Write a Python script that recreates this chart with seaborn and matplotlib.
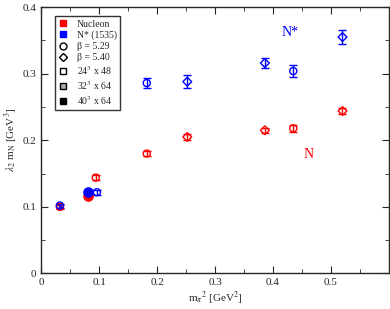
import seaborn as sns
import matplotlib.pyplot as plt
from matplotlib.lines import Line2D
import numpy as np

# values
mpi2 = [0.032, 0.080, 0.094, 0.182, 0.252, 0.386, 0.435, 0.520]
nucleon = [0.100, 0.117, 0.144, 0.180, 0.205, 0.215, 0.218, 0.244]
nucleon_err = [0.003, 0.003, 0.004, 0.004, 0.004, 0.004, 0.005, 0.005]
nstar_x = [0.032, 0.080, 0.096, 0.182, 0.252, 0.386, 0.435, 0.520]
nstar = [0.102, 0.122, 0.122, 0.286, 0.288, 0.316, 0.304, 0.355]
nstar_err = [0.003, 0.004, 0.004, 0.008, 0.010, 0.008, 0.009, 0.010]
beta = [5.29, 5.29, 5.29, 5.29, 5.40, 5.40, 5.29, 5.40]
lattice = ['32x64', '40x64', '24x48', '24x48', '24x48', '24x48', '24x48', '24x48']

sns.set_style("ticks")
plt.rcParams['font.family'] = ['Liberation Serif', 'DejaVu Serif']
plt.rcParams['mathtext.fontset'] = 'stix'

fig = plt.figure(figsize=(3.9, 3.09), dpi=100)
ax = fig.add_axes([0.106, 0.115, 0.891, 0.862])

shape = {5.29: 'o', 5.40: 'D'}

for xs, ys, es, col in [(mpi2, nucleon, nucleon_err, 'red'),
                        (nstar_x, nstar, nstar_err, 'blue')]:
    ax.errorbar(xs, ys, yerr=es, fmt='none', ecolor=col, elinewidth=1,
                capsize=3, capthick=1, zorder=2)
    for x, y, b, lat in zip(xs, ys, beta, lattice):
        m = shape[b]
        s = 26 if m == 'o' else 20
        if lat == '40x64':
            sns.scatterplot(x=[x], y=[y], marker=m, s=s + 18, color=col,
                            edgecolor=col, linewidth=1, ax=ax, zorder=3)
        else:
            sns.scatterplot(x=[x], y=[y], marker=m, s=s, facecolor='none',
                            edgecolor=col, linewidth=1, ax=ax, zorder=3)
            if lat == '32x64':
                sns.scatterplot(x=[x], y=[y], marker='x', s=8, color=col,
                                linewidth=0.8, ax=ax, zorder=3)

ax.text(0.43, 0.362, 'N*', color='blue', fontsize=10, ha='center', va='center')
ax.text(0.461, 0.178, 'N', color='red', fontsize=10, ha='center', va='center')

ax.set_xlim(0, 0.6)
ax.set_ylim(0, 0.4)
ax.set_xticks([0, 0.1, 0.2, 0.3, 0.4, 0.5])
ax.set_xticklabels(['0', '0.1', '0.2', '0.3', '0.4', '0.5'])
ax.set_yticks([0, 0.1, 0.2, 0.3, 0.4])
ax.set_yticklabels(['0', '0.1', '0.2', '0.3', '0.4'])
ax.set_xticks(np.arange(0.05, 0.6, 0.1), minor=True)
ax.set_yticks(np.arange(0.05, 0.4, 0.1), minor=True)
ax.tick_params(which='both', direction='in', top=True, right=True, labelsize=8)
ax.tick_params(which='major', length=5)
ax.tick_params(which='minor', length=3)
for sp in ax.spines.values():
    sp.set_linewidth(1)
    sp.set_visible(True)

ax.set_xlabel(r'm$_\pi$$^2$ [GeV$^2$]', fontsize=8, labelpad=2)
ax.set_ylabel(r'$\lambda_2$ m$_\mathrm{N}$ [GeV$^3$]', fontsize=8, labelpad=2)

handles = [
    Line2D([], [], ls='none', marker='s', color='red', markersize=5),
    Line2D([], [], ls='none', marker='s', color='blue', markersize=5),
    Line2D([], [], ls='none', marker='o', mfc='none', mec='black', markersize=5),
    Line2D([], [], ls='none', marker='D', mfc='none', mec='black', markersize=4.5),
    Line2D([], [], ls='none', marker='s', mfc='none', mec='black', markersize=5),
    Line2D([], [], ls='none', marker='s', mfc='#aaaaaa', mec='black', markersize=5),
    Line2D([], [], ls='none', marker='s', mfc='black', mec='black', markersize=5),
]
labels = ['Nucleon', 'N* (1535)', 'β = 5.29', 'β = 5.40',
          r'24$^3$ x 48', r'32$^3$ x 64', r'40$^3$ x 64']
leg = ax.legend(handles, labels, loc='upper left', bbox_to_anchor=(0.039, 0.966),
                borderaxespad=0, fontsize=7, labelspacing=0.2, handlelength=1,
                handletextpad=0.9, fancybox=False, frameon=True, borderpad=0.35)
leg.get_frame().set_edgecolor('black')
leg.get_frame().set_linewidth(1)

fig.savefig('out.png', dpi=100)
